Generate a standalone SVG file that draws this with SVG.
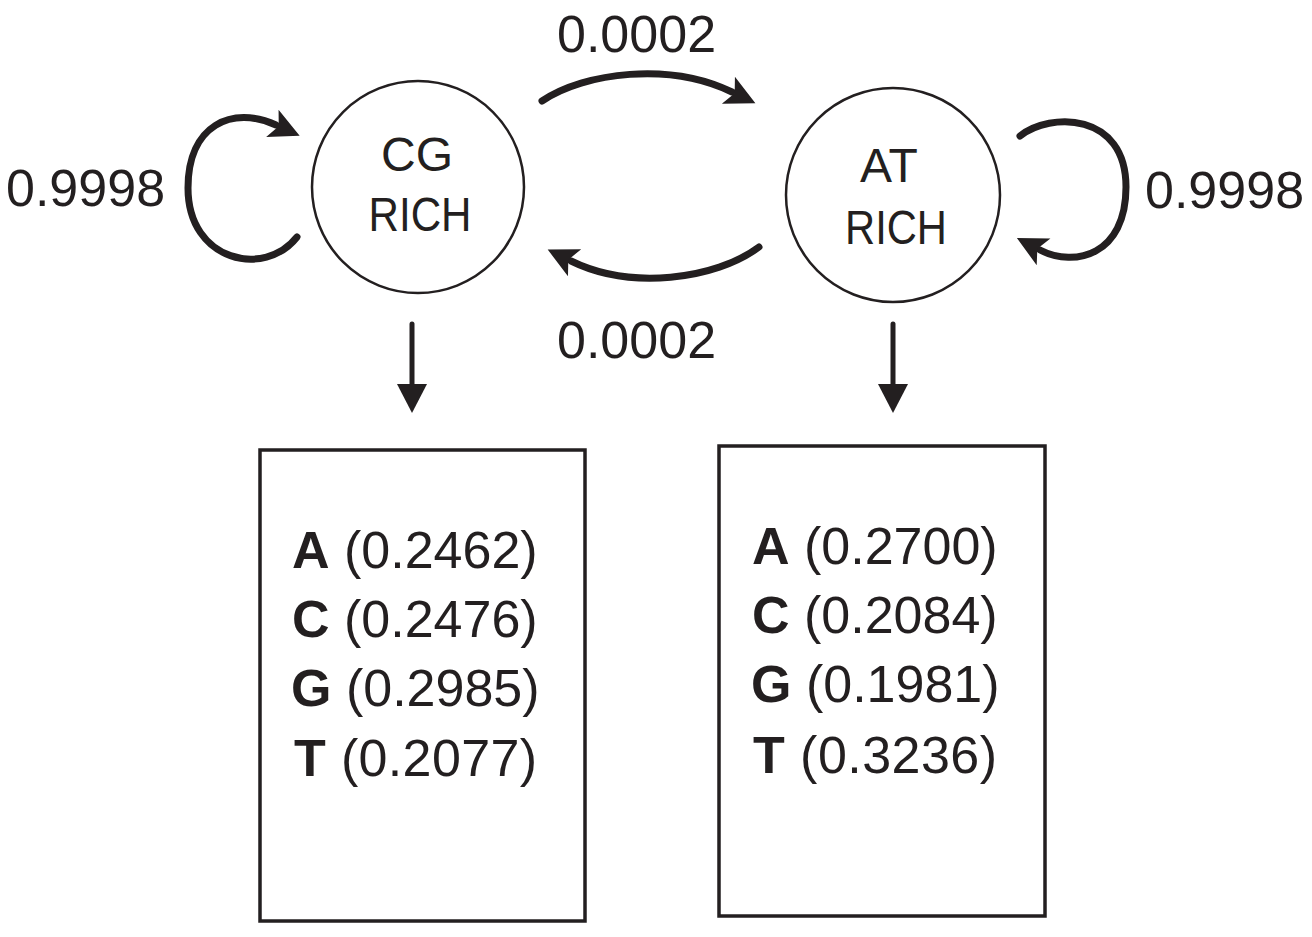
<svg xmlns="http://www.w3.org/2000/svg" width="1312" height="937" viewBox="0 0 1312 937">
<style>
text { font-family: "Liberation Sans", Arial, Helvetica, sans-serif; fill: #231f20; }
.num { font-size: 52px; }
.state { font-size: 48px; text-anchor: middle; }
.node { fill: #fff; stroke: #231f20; stroke-width: 2.5; }
.box { fill: #fff; stroke: #231f20; stroke-width: 3.5; }
.arc { fill: none; stroke: #231f20; stroke-width: 7; stroke-linecap: round; marker-end: url(#swept); }
.down { fill: none; stroke: #231f20; stroke-width: 5; stroke-linecap: round; marker-end: url(#tri); }
</style>
<defs>
<marker id="swept" markerUnits="userSpaceOnUse" markerWidth="60" markerHeight="60" refX="0" refY="0" orient="auto" overflow="visible">
<path d="M26,0 L-4,-15 L3,0 L-4,15 Z" fill="#231f20"/>
</marker>
<marker id="tri" markerUnits="userSpaceOnUse" markerWidth="60" markerHeight="60" refX="0" refY="0" orient="auto" overflow="visible">
<path d="M28,0 L-1,-15 L-1,15 Z" fill="#231f20"/>
</marker>
</defs>
<rect width="1312" height="937" fill="#fff"/>
<g id="connectors">
<path class="arc" d="M542,101 C585,72 670,62 732,92"/>
<path class="arc" d="M759,247 C715,280 630,290 571,261"/>
<path class="arc" d="M297,237 C265,278 188,262 188,188 C188,125 232,105 276,125"/>
<path class="arc" d="M1020,136 C1050,112 1126,112 1126,187 C1126,255 1075,268 1040,250"/>
<path class="down" d="M412,324 L412,385"/>
<path class="down" d="M893,324 L893,385"/>
</g>
<g id="labels">
<text class="num" x="6" y="206">0.9998</text>
<text class="num" x="1145" y="208">0.9998</text>
<text class="num" x="557" y="52">0.0002</text>
<text class="num" x="557" y="358">0.0002</text>
</g>
<g id="cg-rich">
<circle class="node" cx="418" cy="187" r="106"/>
<text class="state" x="417" y="171">CG</text>
<text class="state" x="420" y="231" textLength="103" lengthAdjust="spacingAndGlyphs">RICH</text>
</g>
<g id="at-rich">
<circle class="node" cx="893" cy="195" r="107"/>
<text class="state" x="889" y="182">AT</text>
<text class="state" x="896" y="244" textLength="102" lengthAdjust="spacingAndGlyphs">RICH</text>
</g>
<g id="cg-emissions">
<rect class="box" x="260" y="450" width="325" height="471"/>
<text class="num" x="292" y="568"><tspan font-weight="bold">A</tspan> (0.2462)</text>
<text class="num" x="292" y="637"><tspan font-weight="bold">C</tspan> (0.2476)</text>
<text class="num" x="291" y="706"><tspan font-weight="bold">G</tspan> (0.2985)</text>
<text class="num" x="294" y="776" textLength="243" lengthAdjust="spacing"><tspan font-weight="bold">T</tspan> (0.2077)</text>
</g>
<g id="at-emissions">
<rect class="box" x="719" y="446" width="326" height="470"/>
<text class="num" x="752" y="564"><tspan font-weight="bold">A</tspan> (0.2700)</text>
<text class="num" x="752" y="633"><tspan font-weight="bold">C</tspan> (0.2084)</text>
<text class="num" x="751" y="702"><tspan font-weight="bold">G</tspan> (0.1981)</text>
<text class="num" x="753" y="773" textLength="244" lengthAdjust="spacing"><tspan font-weight="bold">T</tspan> (0.3236)</text>
</g>
</svg>
